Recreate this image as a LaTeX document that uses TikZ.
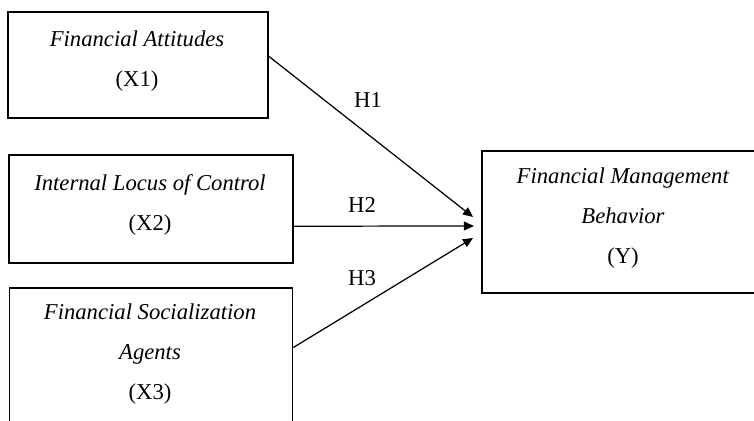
\documentclass[tikz,border=0pt]{standalone}
\usepackage{fontspec}
\setmainfont{Liberation Serif}
\usetikzlibrary{arrows.meta}

\begin{document}
\begin{tikzpicture}[x=0.02cm,y=-0.02cm,
    varbox/.style={draw,line width=1pt,inner sep=0pt},
    vartext/.style={align=center,font=\fontsize{12.9}{22.7}\selectfont},
    hyp/.style={font=\fontsize{12.9}{15}\selectfont},
    hyparrow/.style={line width=0.7pt,-{Triangle[length=5.7pt,width=5pt]}}]
    \useasboundingbox (0,0) rectangle (754,421); \clip (0,0) rectangle (754,421);

    \node (X1) at (138,65) [varbox,minimum width=5.2cm,minimum height=2.12cm] {}; \node (X1t) at (137,61) [vartext] {\textit{Financial Attitudes}\\(X1)};
    \node (X2) at (151,209) [varbox,minimum width=5.68cm,minimum height=2.16cm] {}; \node (X2t) at (150,205) [vartext] {\textit{Internal Locus of Control}\\(X2)};
    \node (X3) at (151,359) [varbox,minimum width=5.66cm,minimum height=2.84cm] {}; \node (X3t) at (150,354) [vartext] {\textit{Financial Socialization}\\\textit{Agents}\\(X3)};
    \node (Y) at (623,222) [varbox,minimum width=5.64cm,minimum height=2.84cm] {}; \node (Yt) at (623,218) [vartext] {\textit{Financial Management}\\\textit{Behavior}\\(Y)};

    \coordinate (y1) at (473,217); \coordinate (y2) at (474,226); \coordinate (y3) at (473,238);

    \path (X1.north east) -- (X1.south east) coordinate[pos=0.42] (x1out); \draw[hyparrow] (x1out) -- (y1);
    \path (X2.north east) -- (X2.south east) coordinate[pos=0.657] (x2out); \draw[hyparrow] (x2out) -- (y2);
    \path (X3.north east) -- (X3.south east) coordinate[pos=0.42] (x3out); \draw[hyparrow] (x3out) -- (y3);

    \node (h1) at (368,100) [hyp] {H1}; \node (h2) at (362,205) [hyp] {H2}; \node (h3) at (362,278) [hyp] {H3};
\end{tikzpicture}
\end{document}
